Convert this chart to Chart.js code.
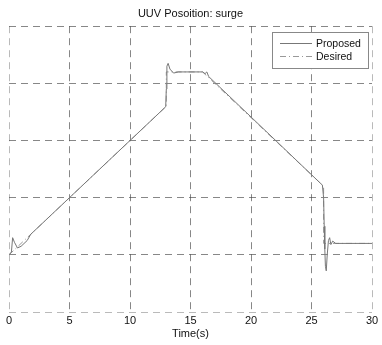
<!DOCTYPE html>
<html>
<head>
<meta charset="utf-8">
<script src="https://cdn.jsdelivr.net/npm/chart.js@4.4.1/dist/chart.umd.min.js"></script>
<style>
  html, body { margin: 0; padding: 0; background: #fff; }
  #wrap { width: 382px; height: 345px; }
</style>
</head>
<body>
<div id="wrap"><canvas id="surgeChart" width="382" height="345"></canvas></div>
<script>
// values (time in s, position unitless)
const xTicks = [0, 5, 10, 15, 20, 25, 30];
const yTicks = [0, 1, 2, 3, 4, 5];

const desiredTime = [0, 13, 13, 16, 26, 26, 30];
const desiredPos  = [1.0, 3.6, 4.2, 4.2, 2.2, 1.2, 1.2];

const proposedTime = [0, 0.2, 0.3, 0.45, 0.7, 1.0, 1.5, 1.8, 12.95, 13.0, 13.05, 13.15, 13.3, 13.6, 14,
                      16.0, 16.2, 16.35, 16.5, 25.9, 26.0, 26.05, 26.1, 26.15, 26.22, 26.3, 26.4, 26.5,
                      26.6, 26.75, 27, 30];
const proposedPos  = [1.0, 1.05, 1.3, 1.22, 1.12, 1.15, 1.25, 1.36, 3.59, 3.9, 4.3, 4.35, 4.25, 4.18, 4.2,
                      4.2, 4.17, 4.2, 4.12, 2.22, 2.0, 1.5, 1.1, 0.8, 0.72, 1.0, 1.25, 1.3,
                      1.18, 1.24, 1.2, 1.2];

const toPoints = (xs, ys) => xs.map((x, i) => ({ x, y: ys[i] }));

// legend box drawn inside the plot, like the MATLAB one
const boxLegend = {
    id: 'boxLegend',
    afterDraw(chart) {
        const c = chart.ctx;
        const x0 = 272, y0 = 32, w = 96, h = 36;
        c.save();
        c.fillStyle = '#fff';
        c.fillRect(x0, y0, w, h);
        c.strokeStyle = '#888';
        c.lineWidth = 1;
        c.strokeRect(x0 + 0.5, y0 + 0.5, w, h);
        chart.data.datasets.forEach((ds, i) => {
            const y = y0 + 11 + i * 13;
            c.strokeStyle = ds.borderColor;
            c.setLineDash(ds.borderDash || []);
            c.beginPath();
            c.moveTo(x0 + 8, y + 0.5);
            c.lineTo(x0 + 40, y + 0.5);
            c.stroke();
            c.setLineDash([]);
            c.fillStyle = '#111';
            c.font = '10.5px "Liberation Sans", Arial, sans-serif';
            c.textBaseline = 'middle';
            c.fillText(ds.label, x0 + 44, y + 1);
        });
        c.restore();
    }
};

const edge = (ctx, max) => ctx.tick && (ctx.tick.value === 0 || ctx.tick.value === max);

new Chart(document.getElementById('surgeChart').getContext('2d'), {
    type: 'scatter',
    data: {
        datasets: [{
            label: 'Proposed',
            data: toPoints(proposedTime, proposedPos),
            showLine: true,
            borderColor: '#777',
            borderWidth: 1,
            pointRadius: 0,
            tension: 0
        }, {
            label: 'Desired',
            data: toPoints(desiredTime, desiredPos),
            showLine: true,
            borderColor: '#999',
            borderWidth: 1,
            borderDash: [6, 3, 1, 3],
            pointRadius: 0,
            tension: 0
        }]
    },
    options: {
        responsive: false,
        animation: false,
        layout: {
            padding: { left: 9, right: 10, top: 0, bottom: 0 }
        },
        scales: {
            x: {
                type: 'linear',
                min: 0,
                max: 30,
                afterBuildTicks: (scale) => { scale.ticks = xTicks.map(v => ({ value: v })); },
                afterFit: (scale) => { scale.height = 33; },
                ticks: {
                    color: '#111',
                    padding: 2,
                    maxRotation: 0,
                    font: { family: '"Liberation Sans", Arial, sans-serif', size: 11 }
                },
                grid: {
                    drawTicks: false,
                    color: (ctx) => edge(ctx, 30) ? 'rgba(140,140,140,0.6)' : 'rgba(70,70,70,0.65)'
                },
                border: { display: false, dash: [7, 5] },
                title: {
                    display: true,
                    text: 'Time(s)',
                    color: '#111',
                    padding: { top: 0, bottom: 4 },
                    font: { family: '"Liberation Sans", Arial, sans-serif', size: 11 }
                }
            },
            y: {
                min: 0,
                max: 5,
                afterBuildTicks: (scale) => { scale.ticks = yTicks.map(v => ({ value: v })); },
                afterFit: (scale) => { scale.width = 0; },
                ticks: { display: false },
                grid: {
                    drawTicks: false,
                    color: (ctx) => ctx.tick && ctx.tick.value === 0 ? 'rgba(140,140,140,0.6)' : 'rgba(70,70,70,0.65)'
                },
                border: { display: false, dash: [7, 5] }
            }
        },
        plugins: {
            legend: { display: false },
            tooltip: { enabled: false },
            title: {
                display: true,
                text: 'UUV Posoition: surge',
                color: '#111',
                font: { family: '"Liberation Sans", Arial, sans-serif', size: 11, weight: 'normal' },
                padding: { top: 7, bottom: 6 }
            }
        }
    },
    plugins: [boxLegend]
});
</script>
</body>
</html>
